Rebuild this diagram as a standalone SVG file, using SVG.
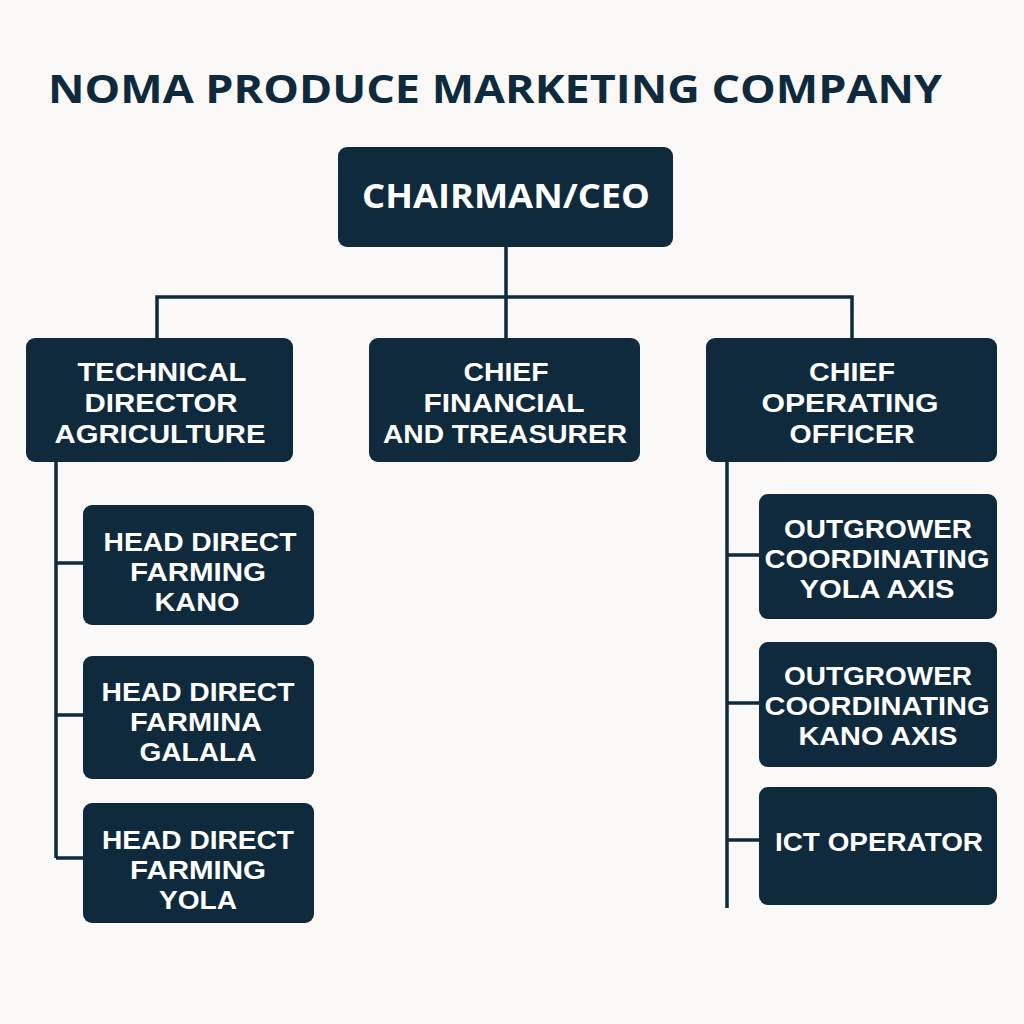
<svg xmlns="http://www.w3.org/2000/svg" width="1024" height="1024" viewBox="0 0 1024 1024">
<style>
.bg{fill:#faf9f7}
.box{fill:#0f2a3c}
.t{fill:#ffffff;font-family:"Liberation Sans","Open Sans",sans-serif;font-weight:700;font-size:26.5px;text-anchor:middle}
.title{fill:#0f2a3c;font-family:"Open Sans","Liberation Sans",sans-serif;font-weight:700;font-size:40px}
.ceo{font-family:"Open Sans","Liberation Sans",sans-serif;font-size:34px}
.ln{stroke:#0f2a3c;stroke-width:3.5;fill:none}
</style>
<rect class="bg" x="0" y="0" width="1024" height="1024"/>
<text class="title" x="48" y="103" textLength="894" lengthAdjust="spacingAndGlyphs">NOMA PRODUCE MARKETING COMPANY</text>
<g id="connectors">
<path class="ln" d="M506 247V297M157 338V297H852V338M506 297V338"/>
<path class="ln" d="M56 462V858M56 563H83M56 715H83M56 858H83"/>
<path class="ln" d="M727 462V908M727 555H759M727 703H759M727 840H759"/>
</g>
<g id="ceo">
<rect class="box" x="338" y="147" width="335" height="100" rx="9"/>
<text class="t ceo" x="506" y="208" textLength="288" lengthAdjust="spacingAndGlyphs">CHAIRMAN/CEO</text>
</g>
<g id="tech">
<rect class="box" x="26" y="338" width="267" height="124" rx="9"/>
<text class="t" x="162" y="381" textLength="169" lengthAdjust="spacingAndGlyphs">TECHNICAL</text>
<text class="t" x="161" y="412" textLength="153" lengthAdjust="spacingAndGlyphs">DIRECTOR</text>
<text class="t" x="160" y="443" textLength="211" lengthAdjust="spacingAndGlyphs">AGRICULTURE</text>
</g>
<g id="cfo">
<rect class="box" x="369" y="338" width="271" height="124" rx="9"/>
<text class="t" x="506" y="381" textLength="85" lengthAdjust="spacingAndGlyphs">CHIEF</text>
<text class="t" x="504" y="412" textLength="161" lengthAdjust="spacingAndGlyphs">FINANCIAL</text>
<text class="t" x="505" y="443" textLength="244" lengthAdjust="spacingAndGlyphs">AND TREASURER</text>
</g>
<g id="coo">
<rect class="box" x="706" y="338" width="291" height="124" rx="9"/>
<text class="t" x="852" y="381" textLength="86" lengthAdjust="spacingAndGlyphs">CHIEF</text>
<text class="t" x="850" y="412" textLength="177" lengthAdjust="spacingAndGlyphs">OPERATING</text>
<text class="t" x="852" y="443" textLength="125" lengthAdjust="spacingAndGlyphs">OFFICER</text>
</g>
<g id="kano">
<rect class="box" x="83" y="505" width="231" height="120" rx="9"/>
<text class="t" x="200" y="551" textLength="193" lengthAdjust="spacingAndGlyphs">HEAD DIRECT</text>
<text class="t" x="198" y="581" textLength="136" lengthAdjust="spacingAndGlyphs">FARMING</text>
<text class="t" x="197" y="611" textLength="85" lengthAdjust="spacingAndGlyphs">KANO</text>
</g>
<g id="galala">
<rect class="box" x="83" y="656" width="231" height="123" rx="9"/>
<text class="t" x="198" y="701" textLength="193" lengthAdjust="spacingAndGlyphs">HEAD DIRECT</text>
<text class="t" x="196" y="731" textLength="132" lengthAdjust="spacingAndGlyphs">FARMINA</text>
<text class="t" x="198" y="761" textLength="117" lengthAdjust="spacingAndGlyphs">GALALA</text>
</g>
<g id="yola">
<rect class="box" x="83" y="803" width="231" height="120" rx="9"/>
<text class="t" x="198" y="849" textLength="192" lengthAdjust="spacingAndGlyphs">HEAD DIRECT</text>
<text class="t" x="198" y="879" textLength="136" lengthAdjust="spacingAndGlyphs">FARMING</text>
<text class="t" x="198" y="909" textLength="78" lengthAdjust="spacingAndGlyphs">YOLA</text>
</g>
<g id="outyola">
<rect class="box" x="759" y="494" width="238" height="125" rx="9"/>
<text class="t" x="878" y="538" textLength="188" lengthAdjust="spacingAndGlyphs">OUTGROWER</text>
<text class="t" x="877" y="568" textLength="225" lengthAdjust="spacingAndGlyphs">COORDINATING</text>
<text class="t" x="877" y="598" textLength="155" lengthAdjust="spacingAndGlyphs">YOLA AXIS</text>
</g>
<g id="outkano">
<rect class="box" x="759" y="642" width="238" height="125" rx="9"/>
<text class="t" x="878" y="685" textLength="188" lengthAdjust="spacingAndGlyphs">OUTGROWER</text>
<text class="t" x="877" y="715" textLength="225" lengthAdjust="spacingAndGlyphs">COORDINATING</text>
<text class="t" x="878" y="745" textLength="159" lengthAdjust="spacingAndGlyphs">KANO AXIS</text>
</g>
<g id="ict">
<rect class="box" x="759" y="787" width="238" height="118" rx="9"/>
<text class="t" x="879" y="851" textLength="208" lengthAdjust="spacingAndGlyphs">ICT OPERATOR</text>
</g>
</svg>
